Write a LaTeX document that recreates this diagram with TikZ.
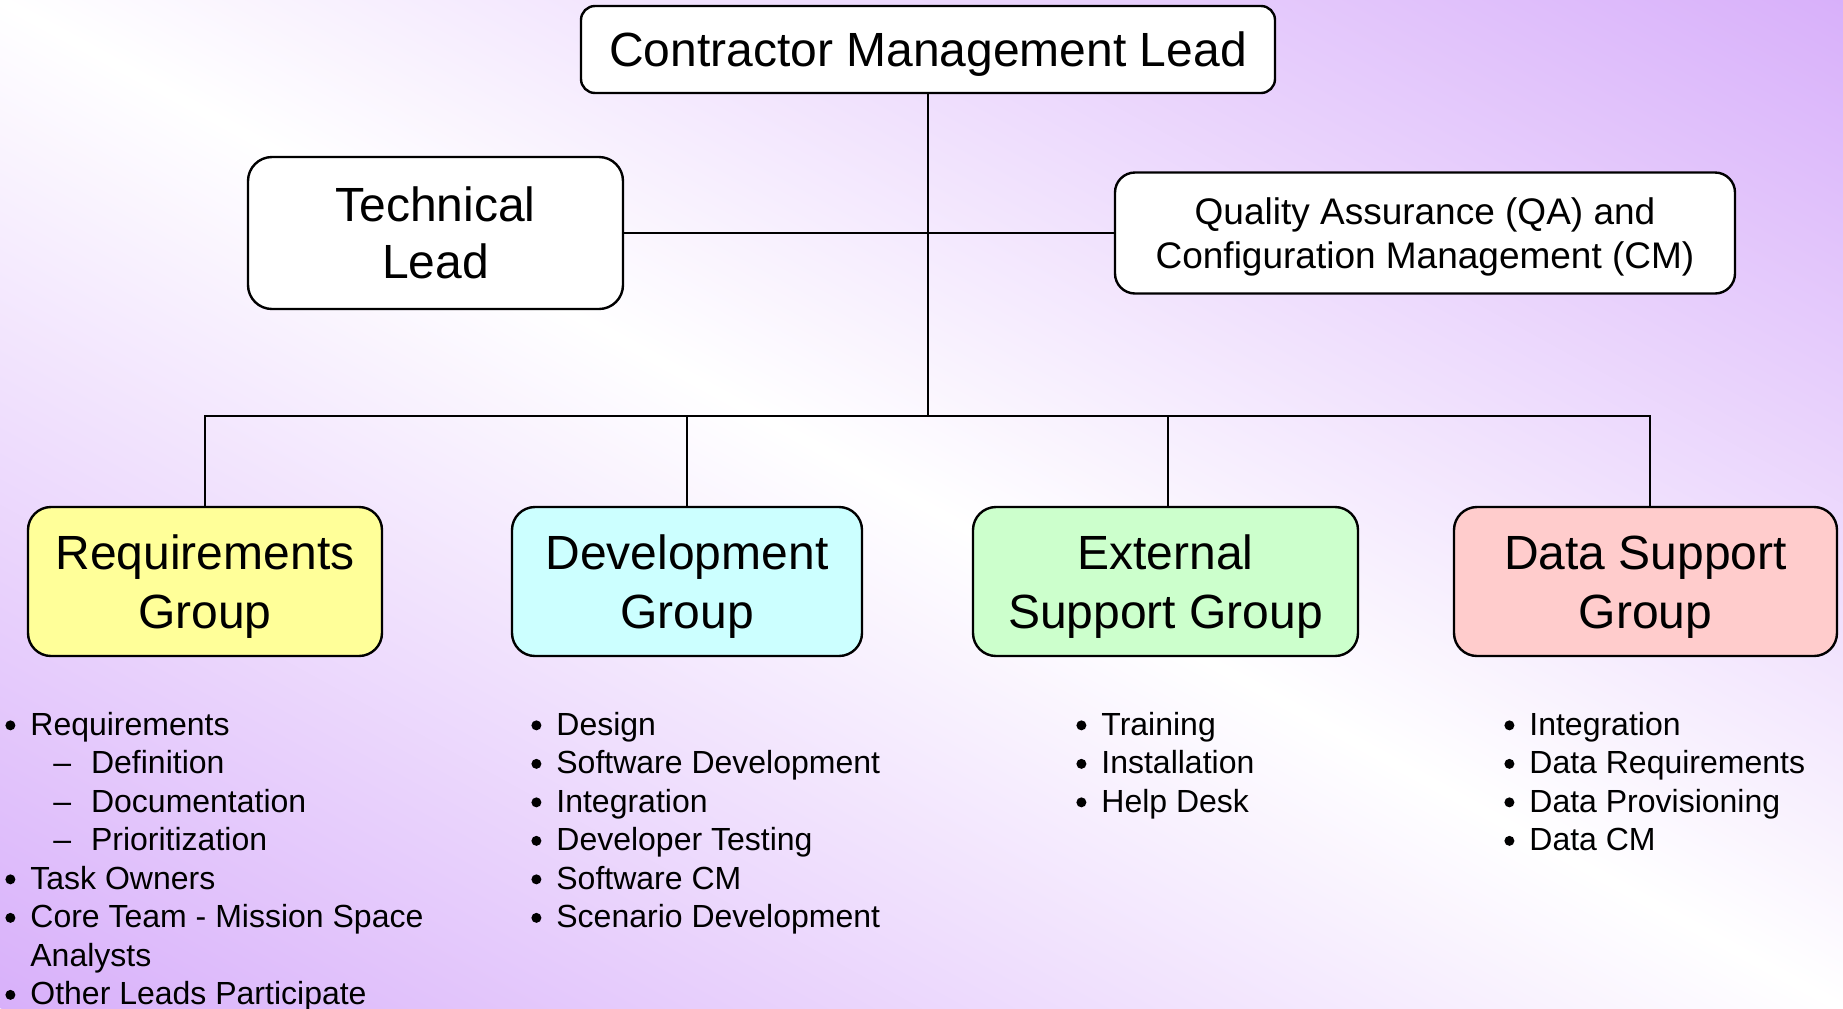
\documentclass[tikz,border=0pt]{standalone}
\usepackage{fontspec}
\setmainfont{Liberation Sans}
\definecolor{bgpurple}{RGB}{216,176,250}
\definecolor{reqfill}{RGB}{255,255,153}
\definecolor{devfill}{RGB}{204,255,255}
\definecolor{extfill}{RGB}{204,255,204}
\definecolor{datfill}{RGB}{255,204,204}
\newcommand\bdot{\tikz[baseline=0pt]\fill[black] (0pt,5pt) circle[radius=2.5pt];}
\newcommand\bitem[1]{\makebox[10pt][l]{\hspace*{-2.5pt}\bdot}#1}
\newcommand\sitem[1]{\hspace*{21.5pt}\makebox[18.85pt][l]{–}#1}
\tikzset{
  box/.style={draw=black, line width=1.2pt, fill=white, align=center, inner sep=0pt},
  groupbox/.style={box, minimum height=74.5pt, rounded corners=11.5pt, font=\fontsize{24}{29.2}\selectfont},
  blist/.style={anchor=north west, inner sep=0pt, align=left, font=\fontsize{16}{19.25}\selectfont},
  conn/.style={draw=black, line width=1pt}
}
\begin{document}
\begin{tikzpicture}[x=0.5pt, y=-0.5pt]
\useasboundingbox (0,0) rectangle (1843,1008);
\begin{scope}
  \clip (0,0) rectangle (1843,1008);
  \begin{scope}[transform canvas={cm={46.075,25.2,46.075,-25.2,(0,0)}}]
    \shade[left color=bgpurple, right color=bgpurple, middle color=white] (-10pt,0pt) rectangle (10pt,20pt);
  \end{scope}
\end{scope}

\node[box, minimum width=347pt, minimum height=43.5pt, rounded corners=7pt, font=\fontsize{24}{27.6}\selectfont] (cml) at (928,49.5) {\rule{0pt}{22pt}Contractor Management Lead};
\node[box, minimum width=187.5pt, minimum height=76pt, rounded corners=12pt, font=\fontsize{24}{28.4}\selectfont] (tl) at (435.5,233) {Technical\\Lead};
\node[box, minimum width=310pt, minimum height=60.5pt, rounded corners=10pt, font=\fontsize{18.5}{21.7}\selectfont] (qa) at (1425,233) {\rule{0pt}{17.5pt}Quality Assurance (QA) and\\Configuration Management (CM)};

\node[groupbox, fill=reqfill, minimum width=177pt] (req) at (205,581.5) {\rule{0pt}{22.3pt}Requirements\\Group};
\node[groupbox, fill=devfill, minimum width=175pt] (dev) at (687,581.5) {\rule{0pt}{22.3pt}Development\\Group};
\node[groupbox, fill=extfill, minimum width=192.5pt] (ext) at (1165.5,581.5) {\rule{0pt}{22.3pt}External\\Support Group};
\node[groupbox, fill=datfill, minimum width=191.5pt] (dat) at (1645.5,581.5) {\rule{0pt}{22.3pt}Data Support\\Group};

\coordinate (bus) at (928,416);
\draw[conn] (cml.south) -- (bus);
\draw[conn] (tl.east) -- (qa.west);
\draw[conn] (req.north) -- (req.north |- bus) -- ([xshift=2pt]dat.north |- bus) -- ([xshift=2pt]dat.north);
\draw[conn] (dev.north) -- (dev.north |- bus);
\draw[conn] ([xshift=1.25pt]ext.north) -- ([xshift=1.25pt]ext.north |- bus);

\node[blist] (reqlist) at (10,708) {\strut\bitem{Requirements}\\
\sitem{Definition}\\
\sitem{Documentation}\\
\sitem{Prioritization}\\
\bitem{Task Owners}\\
\bitem{Core Team - Mission Space}\\
\hspace*{10pt}Analysts\\
\bitem{Other Leads Participate}};

\node[blist] (devlist) at (536,708) {\strut\bitem{Design}\\
\bitem{Software Development}\\
\bitem{Integration}\\
\bitem{Developer Testing}\\
\bitem{Software CM}\\
\bitem{Scenario Development}};

\node[blist] (extlist) at (1081,708) {\strut\bitem{Training}\\
\bitem{Installation}\\
\bitem{Help Desk}};

\node[blist] (datlist) at (1509,708) {\strut\bitem{Integration}\\
\bitem{Data Requirements}\\
\bitem{Data Provisioning}\\
\bitem{Data CM}};
\end{tikzpicture}
\end{document}
